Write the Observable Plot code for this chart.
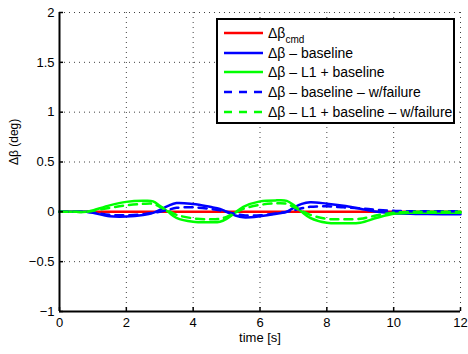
<!DOCTYPE html>
<html>
<head>
<meta charset="utf-8">
<script src="https://cdn.jsdelivr.net/npm/d3@7"></script>
<script src="https://cdn.jsdelivr.net/npm/@observablehq/plot@0.6"></script>
<style>
  html, body { margin: 0; padding: 0; background: #fff; }
  #wrap { position: relative; width: 468px; height: 354px; font-family: "Liberation Sans", Arial, Helvetica, sans-serif; }
  #legend { position: absolute; left: 216px; top: 18px; width: 235px; height: 102px; border: 2px solid #000; background: #fff; font-size: 14px; color: #000; }
  .row { position: absolute; left: 0; height: 20px; display: flex; align-items: center; }
  .row svg { margin-left: 6px; margin-right: 5px; }
  .row sub { font-size: 10px; vertical-align: -5px; line-height: 0; }
</style>
</head>
<body>
<div id="wrap"></div>
<script>
// ---- data ----
const time = [0, 0.5, 0.8, 1.0, 1.5, 2.0, 2.5, 2.8, 3.0, 3.25, 3.5, 4.0, 4.5, 4.8, 5.0, 5.25, 5.5, 6.0, 6.5, 6.8, 7.0, 7.25, 7.5, 8.0, 8.5, 9.0, 9.5, 10, 10.5, 11, 12];
const cmd          = [0, 0, 0, 0, 0, 0, 0, 0, 0, 0, 0, 0, 0, 0, 0, 0, 0, 0, 0, 0, 0, 0, 0, 0, 0, 0, 0, 0, 0, 0, 0];
const baseline     = [0, 0, 0, -0.01, -0.045, -0.048, -0.032, -0.01, 0.02, 0.06, 0.088, 0.078, 0.05, 0.03, 0.0, -0.035, -0.055, -0.045, -0.02, 0.0, 0.04, 0.08, 0.097, 0.082, 0.06, 0.03, 0.0, -0.015, -0.02, -0.022, -0.025];
const l1Baseline   = [0, 0, 0, 0.015, 0.065, 0.1, 0.11, 0.105, 0.06, 0.0, -0.06, -0.1, -0.105, -0.1, -0.07, -0.01, 0.05, 0.105, 0.115, 0.11, 0.07, 0.0, -0.06, -0.11, -0.115, -0.11, -0.06, -0.02, -0.01, -0.01, -0.01];
const baselineFail = [0, 0, 0, -0.005, -0.03, -0.035, -0.025, -0.01, 0.0, 0.02, 0.04, 0.045, 0.03, 0.015, 0.0, -0.02, -0.035, -0.035, -0.015, 0.0, 0.015, 0.035, 0.05, 0.055, 0.045, 0.035, 0.02, 0.01, 0.005, 0.005, 0.005];
const l1Fail       = [0, 0, 0, 0.01, 0.04, 0.065, 0.08, 0.08, 0.05, 0.01, -0.03, -0.065, -0.075, -0.07, -0.05, -0.01, 0.03, 0.07, 0.085, 0.08, 0.05, 0.01, -0.03, -0.07, -0.075, -0.07, -0.035, -0.01, 0.0, 0.0, 0.0];

const seriesNames  = ["Δβ_cmd", "Δβ – baseline", "Δβ – L1 + baseline", "Δβ – baseline – w/failure", "Δβ – L1 + baseline – w/failure"];
const seriesValues = [cmd, baseline, l1Baseline, baselineFail, l1Fail];
const seriesColors = ["#ff0000", "#0000ff", "#00ff00", "#0000ff", "#00ff00"];
const seriesDashed = [false, false, false, true, true];

const xTicks = [0, 2, 4, 6, 8, 10, 12];
const xTickLabels = ["0", "2", "4", "6", "8", "10", "12"];
const yTicks = [-1, -0.5, 0, 0.5, 1, 1.5, 2];
const yTickLabels = ["−1", "−0.5", "0", "0.5", "1", "1.5", "2"];
const xGrid = [2, 4, 6, 8, 10, 12];
const yGrid = [-0.5, 0, 0.5, 1, 1.5, 2];
const xLabel = "time [s]";
const yLabel = "Δβ (deg)";

// ---- build ----
const rows = [];
seriesNames.forEach((name, s) => {
  time.forEach((t, i) => rows.push({series: name, s, t, v: seriesValues[s][i]}));
});

const lineMarks = seriesNames.map((name, s) =>
  Plot.line(rows.filter(d => d.s === s), {
    x: "t", y: "v",
    stroke: seriesColors[s],
    strokeWidth: 2.5,
    strokeDasharray: seriesDashed[s] ? "8,6" : null,
    curve: "catmull-rom"
  })
);

const chart = Plot.plot({
  width: 468,
  height: 354,
  marginLeft: 59,
  marginRight: 8,
  marginTop: 12,
  marginBottom: 43,
  style: {fontFamily: "'Liberation Sans', Arial, Helvetica, sans-serif", fontSize: "13px", color: "#000", background: "#fff"},
  x: {domain: [0, 12]},
  y: {domain: [-1, 2]},
  marks: [
    Plot.ruleX(xGrid, {stroke: "#000", strokeOpacity: 0.75, strokeDasharray: "1,4"}),
    Plot.ruleY(yGrid, {stroke: "#000", strokeOpacity: 0.75, strokeDasharray: "1,4"}),
    ...lineMarks,
    Plot.axisX(xTicks, {tickSize: 0, tickPadding: 6, fontSize: 13, tickFormat: (d, i) => xTickLabels[xTicks.indexOf(d)], label: null}),
    Plot.axisY(yTicks, {tickSize: 0, tickPadding: 5, fontSize: 13, tickFormat: (d) => yTickLabels[yTicks.indexOf(d)], label: null}),
    Plot.axisX(xTicks, {tickSize: -4, fill: "none", strokeWidth: 1.5, label: null}),
    Plot.axisY(yTicks, {tickSize: -4, fill: "none", strokeWidth: 1.5, label: null}),
    Plot.ruleX([0], {stroke: "#000", strokeWidth: 2}),
    Plot.ruleY([-1], {stroke: "#000", strokeWidth: 2}),
    Plot.text([xLabel], {text: d => d, frameAnchor: "bottom", dy: 30, fontSize: 13}),
    Plot.text([yLabel], {text: d => d, frameAnchor: "left", rotate: -90, dx: -45, dy: 3, fontSize: 12})
  ]
});

const wrap = document.getElementById("wrap");
wrap.appendChild(chart);

// legend
const legend = document.createElement("div");
legend.id = "legend";
seriesNames.forEach((name, s) => {
  const row = document.createElement("div");
  row.className = "row";
  row.style.top = (3 + 19.7 * s) + "px";
  const ns = "http://www.w3.org/2000/svg";
  const svg = document.createElementNS(ns, "svg");
  svg.setAttribute("width", 39);
  svg.setAttribute("height", 6);
  const ln = document.createElementNS(ns, "line");
  ln.setAttribute("x1", 0); ln.setAttribute("x2", 39);
  ln.setAttribute("y1", 3); ln.setAttribute("y2", 3);
  ln.setAttribute("stroke", seriesColors[s]);
  ln.setAttribute("stroke-width", 2.5);
  if (seriesDashed[s]) ln.setAttribute("stroke-dasharray", "8,7");
  svg.appendChild(ln);
  row.appendChild(svg);
  const span = document.createElement("span");
  const parts = name.split("_");
  span.textContent = parts[0];
  if (parts[1]) {
    const sub = document.createElement("sub");
    sub.textContent = parts[1];
    span.appendChild(sub);
  }
  row.appendChild(span);
  legend.appendChild(row);
});
wrap.appendChild(legend);
</script>
</body>
</html>
